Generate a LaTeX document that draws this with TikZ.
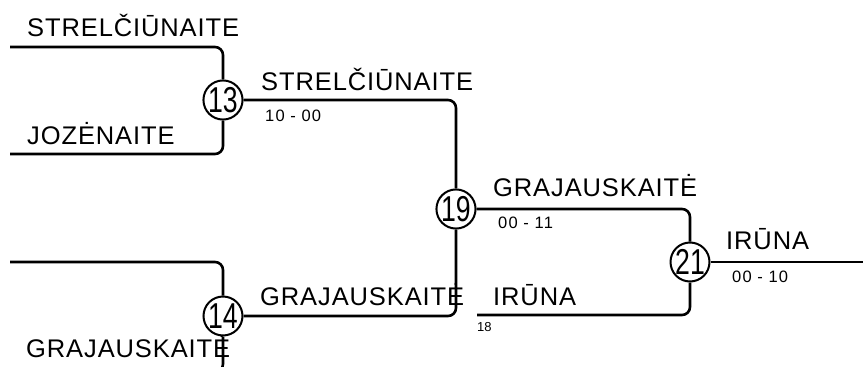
\documentclass[tikz,border=0pt]{standalone}
\usepackage{fontspec}
\usepackage{graphicx}
\setmainfont{Liberation Sans}[LetterSpace=3.5]
\newfontfamily\scorefont{Liberation Sans}[LetterSpace=7]
\newfontfamily\numfont{Liberation Sans}
\begin{document}
\begin{tikzpicture}[x=1pt,y=-1pt,
  link/.style={line width=2.6pt, rounded corners=8pt},
  match/.style={circle, draw, line width=2pt, minimum size=39pt, inner sep=0pt, fill=white,
    font=\numfont\fontsize{36}{36}\selectfont},
  player/.style={anchor=base west, inner sep=0pt, font=\fontsize{25.5}{28}\selectfont},
  score/.style={anchor=base west, inner sep=0pt, font=\scorefont\fontsize{16.5}{18}\selectfont},
  seed/.style={anchor=base west, inner sep=0pt, font=\numfont\fontsize{13}{15}\selectfont}]
\useasboundingbox (0,0) rectangle (863,367);
\clip (0,0) rectangle (863,367);
% entry points
\coordinate (s1) at (10,47);
\coordinate (s2) at (10,154);
\coordinate (s3) at (10,262);
\coordinate (s4) at (10,372);
\coordinate (s5) at (477,315);
\coordinate (fin) at (870,262);
% matches
\node[match] (c13) at (223,100) {\scalebox{0.74}[1]{13}};
\node[match] (c19) at (456,209) {\scalebox{0.74}[1]{19}};
\node[match] (c21) at (690,262) {\scalebox{0.74}[1]{21}};
\node[match] (c14) at (223,316) {\scalebox{0.74}[1]{14}};
% connectors
\draw[link] (s1) -| (c13);
\draw[link] (s2) -| (c13);
\draw[link] (s3) -| (c14);
\draw[link] (s4) -| (c14);
\draw[link] (c13) -| (c19);
\draw[link] (c14) -| (c19);
\draw[link] (c19) -| (c21);
\draw[link] (s5) -| (c21);
\draw[link] (c21) -- (fin);
% player names
\node[player] (n1) at (27,36) {STRELČIŪNAITE};
\node[player] (n2) at (27,144) {JOZĖNAITE};
\node[player] (n3) at (261,90) {STRELČIŪNAITE};
\node[player] (n4) at (260,305) {GRAJAUSKAITĖ};
\node[player] (n5) at (26,357) {GRAJAUSKAITĖ};
\node[player] (n6) at (493,196) {GRAJAUSKAITĖ};
\node[player] (n7) at (493,305) {IRŪNA};
\node[player] (n8) at (726,249) {IRŪNA};
% scores
\node[score] (r13) at (265,121) {10 - 00};
\node[score] (r19) at (498,228) {00 - 11};
\node[score] (r21) at (732,282) {00 - 10};
\node[seed] (sd) at (477,331) {18};
\end{tikzpicture}
\end{document}
